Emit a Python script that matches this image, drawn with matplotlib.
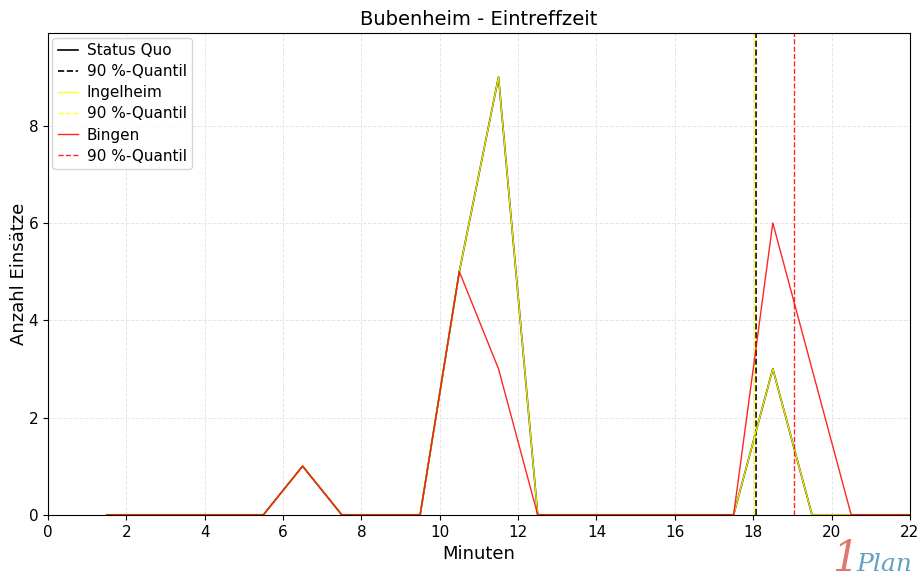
import numpy as np
import matplotlib.pyplot as plt

# Minuten (Klassenmitten)
minuten = [1.5, 2.5, 3.5, 4.5, 5.5, 6.5, 7.5, 8.5, 9.5, 10.5, 11.5,
           12.5, 13.5, 14.5, 15.5, 16.5, 17.5, 18.5, 19.5, 20.5, 21.5, 22.5]
status_quo = [0, 0, 0, 0, 0, 1, 0, 0, 0, 5, 9, 0, 0, 0, 0, 0, 0, 3, 0, 0, 0, 0]
ingelheim = [0, 0, 0, 0, 0, 1, 0, 0, 0, 5, 9, 0, 0, 0, 0, 0, 0, 3, 0, 0, 0, 0]
bingen = [0, 0, 0, 0, 0, 1, 0, 0, 0, 5, 3, 0, 0, 0, 0, 0, 0, 6, 3, 0, 0, 0]

q90_status_quo = 18.06
q90_ingelheim = 18.03
q90_bingen = 19.05

fig, ax = plt.subplots(figsize=(9.21, 5.83), dpi=100)
ax.grid(True, color="#e6e6e6", linestyle="--", linewidth=0.7)
ax.set_axisbelow(True)

ax.plot(minuten, status_quo, color="black", linewidth=1.2, label="Status Quo")
ax.axvline(q90_status_quo, color="black", linestyle="--", linewidth=1.2, label="90 %-Quantil")
ax.plot(minuten, ingelheim, color="yellow", linewidth=1.0, alpha=0.9, label="Ingelheim")
ax.axvline(q90_ingelheim, color="yellow", linestyle="--", linewidth=1.0, alpha=0.9, label="90 %-Quantil")
ax.plot(minuten, bingen, color="red", linewidth=1.0, alpha=0.85, label="Bingen")
ax.axvline(q90_bingen, color="red", linestyle="--", linewidth=1.0, alpha=0.85, label="90 %-Quantil")

ax.set_xlim(0, 22)
ax.set_ylim(0, max(max(status_quo), max(ingelheim), max(bingen)) * 1.1)
ax.set_xticks(np.arange(0, 23, 2))
ax.tick_params(labelsize=11)
ax.set_title("Bubenheim - Eintreffzeit", fontsize=14)
ax.set_xlabel("Minuten", fontsize=13)
ax.set_ylabel("Anzahl Einsätze", fontsize=13, labelpad=0)
ax.legend(loc="upper left", fontsize=11, handlelength=1.3, handletextpad=0.6,
          borderpad=0.35, labelspacing=0.4, borderaxespad=0.3)

plt.subplots_adjust(left=0.052, right=0.988, top=0.943, bottom=0.117)

# Logo
fig.text(0.903, 0.006, "1", color="#d9534f", fontsize=30, fontstyle="italic",
         family="DejaVu Serif", ha="left", va="bottom", alpha=0.8)
fig.text(0.93, 0.012, "Plan", color="#4a90b8", fontsize=18, fontstyle="italic",
         family="DejaVu Serif", ha="left", va="bottom", alpha=0.85)

plt.savefig("out.png", dpi=100)
